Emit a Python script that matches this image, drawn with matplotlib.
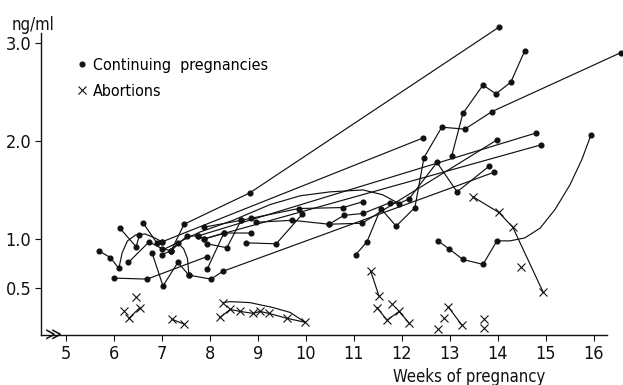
import matplotlib
matplotlib.use("Agg")
import matplotlib.pyplot as plt
from matplotlib.lines import Line2D

plt.rcParams["font.family"] = ["DejaVu Sans"]
plt.rcParams["font.stretch"] = "condensed"

# ---- continuing pregnancies (weeks, ng/ml), one pair of lists per woman ----
cont_a_wk = [5.68, 5.92, 6.10]
cont_a_ng = [0.88, 0.81, 0.70]
cont_b_wk = [6.12, 6.46, 6.53]
cont_b_ng = [1.11, 0.92, 1.04]
cont_c_wk = [6.30, 6.73, 7.00, 7.19, 7.52, 7.75, 7.88, 8.29, 8.85]
cont_c_ng = [0.76, 0.97, 0.90, 0.88, 1.03, 1.03, 1.00, 1.06, 1.06]
cont_d_wk = [6.61, 6.89, 7.00]
cont_d_ng = [1.16, 0.96, 0.97]
cont_e_wk = [6.00, 6.69, 7.94]
cont_e_ng = [0.60, 0.59, 0.82]
cont_f_wk = [6.79, 7.02, 7.33, 7.56]
cont_f_ng = [0.86, 0.52, 0.76, 0.63]
cont_g_wk = [7.00, 7.19, 7.33]
cont_g_ng = [0.84, 0.88, 0.96]
cont_h_wk = [7.56, 8.02, 8.27, 13.92]
cont_h_ng = [0.63, 0.59, 0.67, 1.68]
cont_i_wk = [7.94, 8.29]
cont_i_ng = [0.69, 1.06]
cont_top_wk = [7.19, 7.46, 8.83, 14.02]
cont_top_ng = [0.88, 1.15, 1.47, 3.16]
cont_long_wk = [7.00, 12.44]
cont_long_ng = [0.97, 2.03]
cont_k_wk = [7.88, 8.65, 8.85, 9.85, 10.77, 11.19]
cont_k_ng = [1.12, 1.19, 1.21, 1.31, 1.32, 1.38]
cont_l_wk = [7.94, 8.35, 8.65]
cont_l_ng = [0.95, 0.91, 1.19]
cont_j_wk = [8.75, 9.38, 9.92]
cont_j_ng = [0.96, 0.95, 1.25]
cont_m_wk = [8.96, 9.71, 10.48, 10.79, 11.19, 11.75, 11.94, 12.15, 12.73, 13.15, 13.81]
cont_m_ng = [1.17, 1.19, 1.15, 1.24, 1.26, 1.37, 1.36, 1.41, 1.78, 1.48, 1.74]
cont_n_wk = [10.48, 11.17, 13.98]
cont_n_ng = [1.15, 1.16, 2.01]
cont_p_wk = [11.04, 11.27, 11.56, 11.88, 12.27, 12.46, 12.83, 13.31, 13.88, 16.56]
cont_p_ng = [0.84, 0.97, 1.31, 1.13, 1.32, 1.83, 2.14, 2.12, 2.30, 2.90]
cont_q_wk = [13.04, 13.27, 13.69, 13.96, 14.27, 14.56]
cont_q_ng = [1.85, 2.28, 2.57, 2.48, 2.60, 2.92]
cont_r_wk = [12.75, 12.98, 13.27, 13.69, 13.98]
cont_r_ng = [0.98, 0.90, 0.79, 0.74, 0.98]
cont_s_wk = [7.75, 14.79]
cont_s_ng = [1.03, 2.08]
cont_t_wk = [7.88, 14.90]
cont_t_ng = [1.00, 1.96]
cont_end_wk = [15.94]
cont_end_ng = [2.06]

curve_a_wk = [6.10, 6.17, 6.28, 6.45, 6.65, 6.85, 7.00]
curve_a_ng = [0.70, 0.86, 0.98, 1.04, 1.05, 1.01, 0.97]
curve_g_wk = [7.33, 7.45, 7.53, 7.56]
curve_g_ng = [0.96, 0.90, 0.80, 0.63]
curve_arc_wk = [7.02, 7.79, 8.48, 9.25, 9.88, 10.50, 11.19, 11.60, 11.94]
curve_arc_ng = [0.89, 1.07, 1.19, 1.35, 1.44, 1.48, 1.50, 1.45, 1.36]
curve_r_wk = [13.98, 14.25, 14.56, 14.88, 15.19, 15.50, 15.75, 15.94]
curve_r_ng = [0.98, 0.98, 1.01, 1.11, 1.30, 1.55, 1.81, 2.06]

# ---- abortions ----
abo_a_wk = [13.48, 14.02, 14.31, 14.94]
abo_a_ng = [1.43, 1.27, 1.12, 0.46]
abo_b_wk = [11.35, 11.52]
abo_b_ng = [0.67, 0.42]
abo_c_wk = [11.48, 11.69, 11.94, 12.15]
abo_c_ng = [0.30, 0.17, 0.26, 0.14]
abo_d_wk = [12.96, 13.25]
abo_d_ng = [0.31, 0.12]
abo_e_wk = [6.31, 6.54]
abo_e_ng = [0.19, 0.30]
abo_f_wk = [7.21, 7.46]
abo_f_ng = [0.18, 0.13]
abo_g_wk = [8.21, 8.42, 8.63, 8.90, 9.04, 9.23, 9.60, 9.98]
abo_g_ng = [0.20, 0.28, 0.26, 0.24, 0.26, 0.24, 0.19, 0.15]
abo_single_wk = [14.48, 11.79, 12.75, 12.88, 13.71, 13.71, 6.21, 6.46, 8.27]
abo_single_ng = [0.71, 0.34, 0.08, 0.19, 0.18, 0.09, 0.26, 0.41, 0.35]
curve_abo_wk = [8.27, 8.42, 8.83, 9.31, 9.67, 9.98]
curve_abo_ng = [0.35, 0.36, 0.35, 0.30, 0.25, 0.15]

x_ticks = [5, 6, 7, 8, 9, 10, 11, 12, 13, 14, 15, 16]
y_ticks = [0.5, 1.0, 2.0, 3.0]
y_labels = ["0.5", "1.0", "2.0", "3.0"]

cont_series = [
    (cont_a_wk, cont_a_ng), (cont_b_wk, cont_b_ng), (cont_c_wk, cont_c_ng),
    (cont_d_wk, cont_d_ng), (cont_e_wk, cont_e_ng), (cont_f_wk, cont_f_ng),
    (cont_g_wk, cont_g_ng), (cont_h_wk, cont_h_ng), (cont_i_wk, cont_i_ng),
    (cont_top_wk, cont_top_ng), (cont_long_wk, cont_long_ng),
    (cont_k_wk, cont_k_ng), (cont_l_wk, cont_l_ng), (cont_j_wk, cont_j_ng),
    (cont_m_wk, cont_m_ng), (cont_n_wk, cont_n_ng), (cont_p_wk, cont_p_ng),
    (cont_q_wk, cont_q_ng), (cont_r_wk, cont_r_ng), (cont_s_wk, cont_s_ng),
    (cont_t_wk, cont_t_ng), (cont_end_wk, cont_end_ng),
]
curves = [
    (curve_a_wk, curve_a_ng), (curve_g_wk, curve_g_ng),
    (curve_arc_wk, curve_arc_ng), (curve_r_wk, curve_r_ng),
    (curve_abo_wk, curve_abo_ng),
]
abo_series = [
    (abo_a_wk, abo_a_ng), (abo_b_wk, abo_b_ng), (abo_c_wk, abo_c_ng),
    (abo_d_wk, abo_d_ng), (abo_e_wk, abo_e_ng), (abo_f_wk, abo_f_ng),
    (abo_g_wk, abo_g_ng),
]

INK = "#111111"

fig = plt.figure(figsize=(6.23, 3.85), dpi=100)
ax = fig.add_axes([0.066, 0.130, 0.908, 0.784])

for wk, ng in curves:
    ax.plot(wk, ng, color=INK, lw=0.85, clip_on=False)
for wk, ng in cont_series:
    ax.plot(wk, ng, color=INK, lw=0.85, marker="o", ms=3.4, clip_on=False)
for wk, ng in abo_series:
    ax.plot(wk, ng, color=INK, lw=0.85, marker="x", ms=6, mew=0.8, clip_on=False)
ax.plot(abo_single_wk, abo_single_ng, ls="none", color=INK,
        marker="x", ms=6, mew=0.8, clip_on=False)

ax.set_xlim(4.48, 16.27)
ax.set_ylim(0.02, 3.10)
for side in ("top", "right"):
    ax.spines[side].set_visible(False)
for side in ("left", "bottom"):
    ax.spines[side].set_linewidth(1.0)
    ax.spines[side].set_color(INK)

ax.set_xticks(x_ticks)
ax.set_yticks(y_ticks)
ax.set_yticklabels(y_labels)
ax.tick_params(direction="out", length=4, width=0.8, colors=INK,
               labelsize=13, pad=3)

# axis break mark on the x axis
ax.text(4.73, 0.02, "\u226b", ha="center", va="center", fontsize=13,
        color=INK, clip_on=False)

fig.text(0.018, 0.936, "ng/ml", fontsize=12, color=INK, ha="left", va="center")
ax.text(0.756, -0.139, "Weeks of pregnancy", transform=ax.transAxes,
        fontsize=12, color=INK, ha="center", va="center")

handles = [
    Line2D([], [], ls="none", marker="o", ms=3.4, color=INK),
    Line2D([], [], ls="none", marker="x", ms=6, mew=0.8, color=INK),
]
ax.legend(handles, ["Continuing  pregnancies", "Abortions"],
          loc="upper left", bbox_to_anchor=(0.05, 0.94), frameon=False,
          fontsize=11.5, handlelength=0.8, handletextpad=0.3, labelspacing=0.7,
          borderaxespad=0)

fig.savefig("out.png", dpi=100)
